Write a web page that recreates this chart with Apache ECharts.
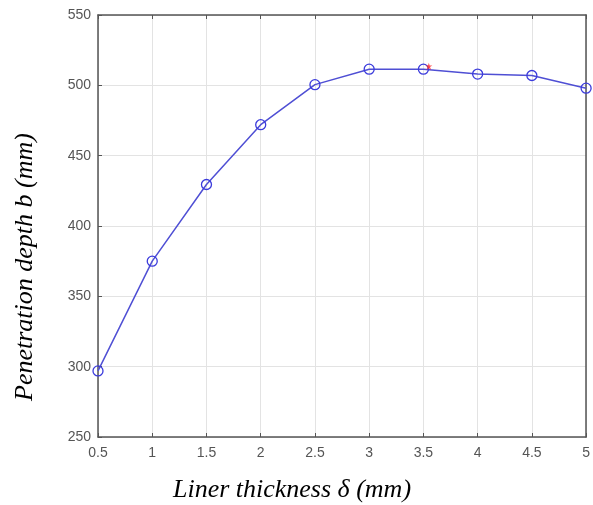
<!DOCTYPE html>
<html>
<head>
<meta charset="utf-8">
<script src="https://cdn.jsdelivr.net/npm/echarts@6/dist/echarts.min.js"></script>
<style>
  html, body { margin: 0; padding: 0; background: #fff; }
  #chart { width: 593px; height: 505px; }
</style>
</head>
<body>
<div id="chart"></div>
<script>
// liner thickness (mm) and penetration depth (mm)
const thickness = [0.5, 1, 1.5, 2, 2.5, 3, 3.5, 4, 4.5, 5];
const depth = [297, 375, 429.5, 472, 500.5, 511.5, 511.5, 508, 507, 498];
// optimum point (red star)
const optimum = [[3.55, 513.5]];

const xTitle = "Liner thickness δ (mm)";
const yTitle = "Penetration depth b (mm)";

const lineData = thickness.map(function (t, i) {
  return [t, depth[i]];
});

const axisCol = "#555";
const gridCol = "#e3e3e3";

const option = {
  animation: false,
  grid: { left: 98, top: 15, right: 6, bottom: 68 },
  xAxis: [
    {
      type: "value",
      min: 0.5,
      max: 5,
      interval: 0.5,
      axisLine: { lineStyle: { color: axisCol, width: 1.5 } },
      axisTick: { inside: true, length: 4, lineStyle: { color: axisCol } },
      axisLabel: { color: "#555", fontSize: 14, fontFamily: "Liberation Sans", margin: 9 },
      splitLine: { show: true, lineStyle: { color: gridCol } },
    },
    {
      type: "value",
      position: "top",
      min: 0.5,
      max: 5,
      interval: 0.5,
      axisLine: { show: true, lineStyle: { color: axisCol, width: 1.5 } },
      axisTick: { show: true, inside: true, length: 4, lineStyle: { color: axisCol } },
      axisLabel: { show: false },
      splitLine: { show: false },
    },
  ],
  yAxis: [
    {
      type: "value",
      min: 250,
      max: 550,
      interval: 50,
      axisLine: { show: true, lineStyle: { color: axisCol, width: 1.5 } },
      axisTick: { show: true, inside: true, length: 4, lineStyle: { color: axisCol } },
      axisLabel: { color: "#555", fontSize: 14, fontFamily: "Liberation Sans", margin: 7 },
      splitLine: { show: true, lineStyle: { color: gridCol } },
    },
    {
      type: "value",
      position: "right",
      min: 250,
      max: 550,
      interval: 50,
      axisLine: { show: true, lineStyle: { color: axisCol, width: 1.5 } },
      axisTick: { show: false },
      axisLabel: { show: false },
      splitLine: { show: false },
    },
  ],
  series: [
    {
      type: "line",
      data: lineData,
      symbol: "circle",
      symbolSize: 10,
      showAllSymbol: true,
      lineStyle: { color: "#4f4fd4", width: 1.5 },
      itemStyle: { color: "rgba(0,0,0,0)", borderColor: "#3b3bdc", borderWidth: 1.3 },
      z: 3,
    },
    {
      type: "scatter",
      data: optimum,
      symbol: "path://M0,-10L2,-3L9,-3L3,1L6,8L0,4L-6,8L-3,1L-9,-3L-2,-3Z",
      symbolSize: 7,
      itemStyle: { color: "#ff2020" },
      z: 4,
    },
  ],
  graphic: [
    {
      type: "text",
      x: 292,
      y: 490,
      style: {
        text: xTitle,
        font: "italic 26px 'Liberation Serif'",
        fill: "#000",
        align: "center",
        verticalAlign: "middle",
      },
    },
    {
      type: "text",
      x: 25,
      y: 267,
      rotation: Math.PI / 2,
      style: {
        text: yTitle,
        font: "italic 26px 'Liberation Serif'",
        fill: "#000",
        align: "center",
        verticalAlign: "middle",
      },
    },
  ],
};

const myChart = echarts.init(document.getElementById("chart"));
myChart.setOption(option);
</script>
</body>
</html>
